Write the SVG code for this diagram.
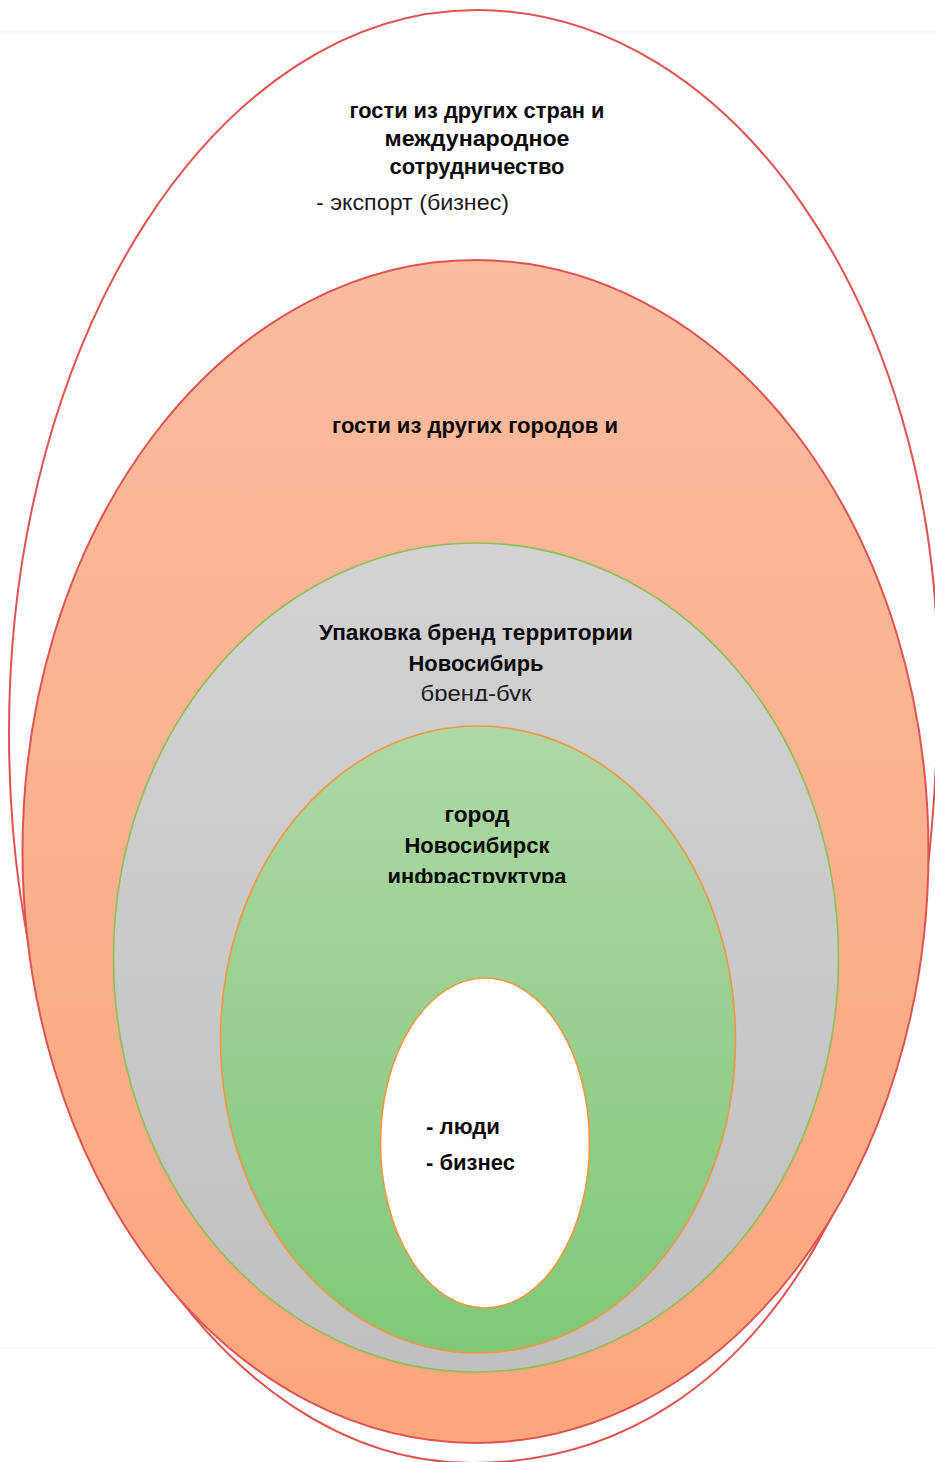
<svg xmlns="http://www.w3.org/2000/svg" width="935" height="1462" viewBox="0 0 935 1462">
<style>
.b{font-family:"Liberation Sans",Arial,sans-serif;font-weight:bold;font-size:22px;fill:#0a0a0a;}
.r{font-family:"Liberation Sans",Arial,sans-serif;font-size:22px;fill:#1a1a1a;}
.red{stroke:#df5350;stroke-width:2;}
.org{stroke:#f7963f;stroke-width:1.6;}
.grn{stroke:#8cc152;stroke-width:1.6;}
.faint{stroke:#f6f6f6;stroke-width:1;}
</style>
<defs>
<linearGradient id="gSalmon" x1="0" y1="0" x2="0" y2="1">
<stop offset="0" stop-color="#fbbb9f"/><stop offset="1" stop-color="#fca67d"/>
</linearGradient>
<linearGradient id="gGray" x1="0" y1="0" x2="0" y2="1">
<stop offset="0" stop-color="#d2d2d2"/><stop offset="1" stop-color="#c0c0c0"/>
</linearGradient>
<linearGradient id="gGreen" x1="0" y1="0" x2="0" y2="1">
<stop offset="0" stop-color="#aed8a6"/><stop offset="1" stop-color="#80c878"/>
</linearGradient>
<clipPath id="clipGray"><rect x="0" y="0" width="935" height="701"/></clipPath>
<clipPath id="clipGreen"><rect x="0" y="0" width="935" height="883"/></clipPath>
</defs>
<rect width="935" height="1462" fill="#ffffff"/>
<line class="faint" x1="0" y1="32" x2="935" y2="32"/>
<line class="faint" x1="0" y1="1348" x2="935" y2="1348"/>

<g id="node-international">
<path class="red" fill="#ffffff" d="M477,10 C731.6,10 938,308.6 938,677 C938,1150 765,1463 472,1463 C216.3,1463 9,1136 9,733 C9,334 218.5,10 477,10 Z"/>
<text class="b" x="477" y="118" text-anchor="middle" textLength="255" lengthAdjust="spacingAndGlyphs">гости из других стран и</text>
<text class="b" x="477" y="146" text-anchor="middle" textLength="185" lengthAdjust="spacingAndGlyphs">международное</text>
<text class="b" x="477" y="174" text-anchor="middle" textLength="175" lengthAdjust="spacingAndGlyphs">сотрудничество</text>
<text class="r" x="316" y="210" textLength="193" lengthAdjust="spacingAndGlyphs">- экспорт (бизнес)</text>
</g>

<g id="node-cities">
<ellipse class="red" fill="url(#gSalmon)" cx="475.5" cy="851.5" rx="453" ry="591.5"/>
<text class="b" x="475" y="433" text-anchor="middle" textLength="286" lengthAdjust="spacingAndGlyphs">гости из других городов и</text>
</g>

<g id="node-brand">
<ellipse class="grn" fill="url(#gGray)" cx="476" cy="957.5" rx="362.5" ry="414.5"/>
<g clip-path="url(#clipGray)">
<text class="b" x="476" y="640" text-anchor="middle" textLength="314" lengthAdjust="spacingAndGlyphs">Упаковка бренд территории</text>
<text class="b" x="476" y="671" text-anchor="middle" textLength="135" lengthAdjust="spacingAndGlyphs">Новосибирь</text>
<text class="r" x="476" y="701" text-anchor="middle" textLength="111" lengthAdjust="spacingAndGlyphs">бренд-бук</text>
</g>
</g>

<g id="node-city">
<ellipse class="org" fill="url(#gGreen)" cx="478" cy="1039.5" rx="257.5" ry="313.5"/>
<g clip-path="url(#clipGreen)">
<text class="b" x="477" y="822" text-anchor="middle" textLength="65" lengthAdjust="spacingAndGlyphs">город</text>
<text class="b" x="477" y="853" text-anchor="middle" textLength="145" lengthAdjust="spacingAndGlyphs">Новосибирск</text>
<text class="b" x="477" y="884" text-anchor="middle" textLength="179" lengthAdjust="spacingAndGlyphs">инфраструктура</text>
</g>
</g>

<g id="node-people">
<ellipse class="org" fill="#ffffff" cx="485" cy="1143" rx="104.5" ry="165"/>
<text class="b" x="426" y="1134" textLength="74" lengthAdjust="spacingAndGlyphs">- люди</text>
<text class="b" x="426" y="1170" textLength="89" lengthAdjust="spacingAndGlyphs">- бизнес</text>
</g>

<g id="connectors"/>
</svg>
